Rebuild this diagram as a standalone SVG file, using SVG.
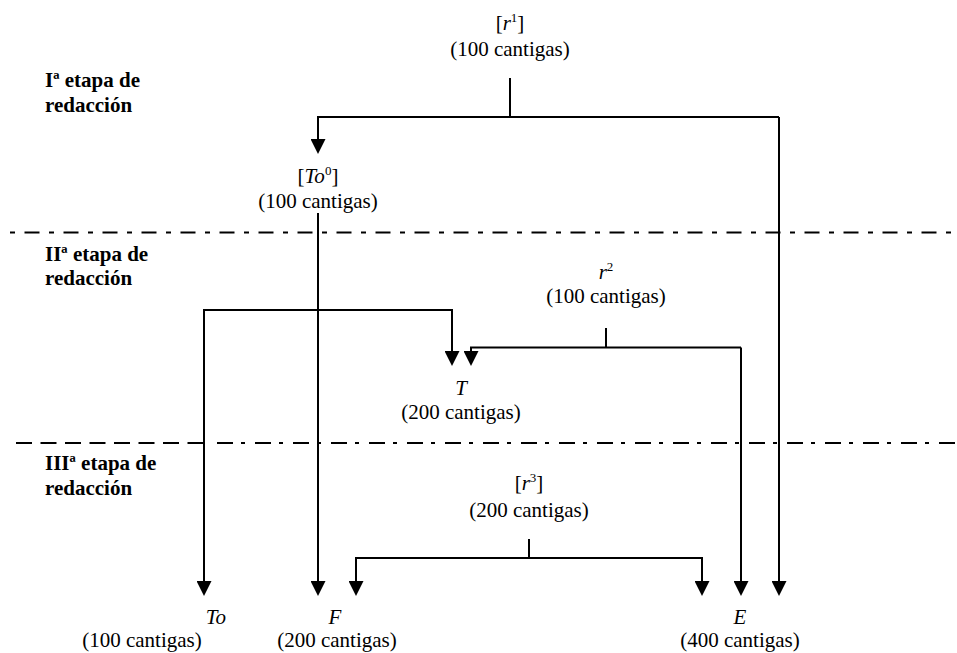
<svg xmlns="http://www.w3.org/2000/svg" width="957" height="653" viewBox="0 0 957 653">
<style>
text{font-family:"Liberation Serif","Times New Roman","DejaVu Serif",serif;font-size:21px;fill:#000}
.c{text-anchor:middle}
.b{font-weight:bold}
.i{font-style:italic}
.sup{font-size:13px}
.ln{fill:none;stroke:#000;stroke-width:2}
.arr{fill:none;stroke:#000;stroke-width:2;marker-end:url(#ah)}
.sep{fill:none;stroke:#000;stroke-width:2}
</style>
<defs>
<marker id="ah" markerUnits="userSpaceOnUse" viewBox="0 -7.5 15 15" refX="13" refY="0" markerWidth="15" markerHeight="15" orient="auto">
<path d="M0,-7.5 L15,0 L0,7.5 z" fill="#000"/>
</marker>
</defs>
<rect width="957" height="653" fill="#fff"/>

<g id="separators">
<line class="sep" x1="10" y1="232.5" x2="957" y2="232.5" stroke-dasharray="5 9.5 15 9.5"/>
<line class="sep" x1="16" y1="443" x2="210" y2="443" stroke-dasharray="16 8.5"/>
<line class="sep" x1="217" y1="443" x2="957" y2="443" stroke-dasharray="16 8 4 10"/>
</g>

<g id="stage-labels" font-family="Liberation Serif, serif">
<text class="b" x="45" y="87">Iª etapa de</text>
<text class="b" x="45" y="112">redacción</text>
<text class="b" x="45" y="261">IIª etapa de</text>
<text class="b" x="45" y="285">redacción</text>
<text class="b" x="45" y="470">IIIª etapa de</text>
<text class="b" x="45" y="495">redacción</text>
</g>

<g id="connectors">
<path class="ln" d="M510,78 V117"/>
<path class="arr" d="M779,117 H318 V152"/>
<path class="arr" d="M779,117 V594"/>
<path class="arr" d="M318,213 V594"/>
<path class="arr" d="M204,594 V310 H452 V364"/>
<path class="arr" d="M204,310 V594"/>
<path class="ln" d="M606,328 V347.5"/>
<path class="arr" d="M741,347.5 H471 V364"/>
<path class="arr" d="M741,347.5 V594"/>
<path class="ln" d="M529,539 V558"/>
<path class="arr" d="M529,558 H356 V594"/>
<path class="arr" d="M529,558 H702 V594"/>
</g>

<g id="node-r1">
<text class="c" x="510" y="29.5">[<tspan class="i">r</tspan><tspan class="sup" dy="-8">1</tspan><tspan dy="8">]</tspan></text>
<text class="c" x="510" y="56">(100 cantigas)</text>
</g>

<g id="node-To0">
<text class="c" x="318" y="183">[<tspan class="i">To</tspan><tspan class="sup" dy="-8">0</tspan><tspan dy="8">]</tspan></text>
<text class="c" x="318" y="208">(100 cantigas)</text>
</g>

<g id="node-r2">
<text class="c" x="606" y="279"><tspan class="i">r</tspan><tspan class="sup" dy="-8">2</tspan></text>
<text class="c" x="606" y="302.5">(100 cantigas)</text>
</g>

<g id="node-T">
<text class="c i" x="461" y="395">T</text>
<text class="c" x="461" y="419">(200 cantigas)</text>
</g>

<g id="node-r3">
<text class="c" x="529" y="490">[<tspan class="i">r</tspan><tspan class="sup" dy="-8">3</tspan><tspan dy="8">]</tspan></text>
<text class="c" x="529" y="517">(200 cantigas)</text>
</g>

<g id="node-To">
<text class="c i" x="216" y="624">To</text>
<text class="c" x="142" y="647">(100 cantigas)</text>
</g>

<g id="node-F">
<text class="c i" x="335" y="624">F</text>
<text class="c" x="337" y="647">(200 cantigas)</text>
</g>

<g id="node-E">
<text class="c i" x="740" y="624">E</text>
<text class="c" x="740" y="647">(400 cantigas)</text>
</g>
</svg>
